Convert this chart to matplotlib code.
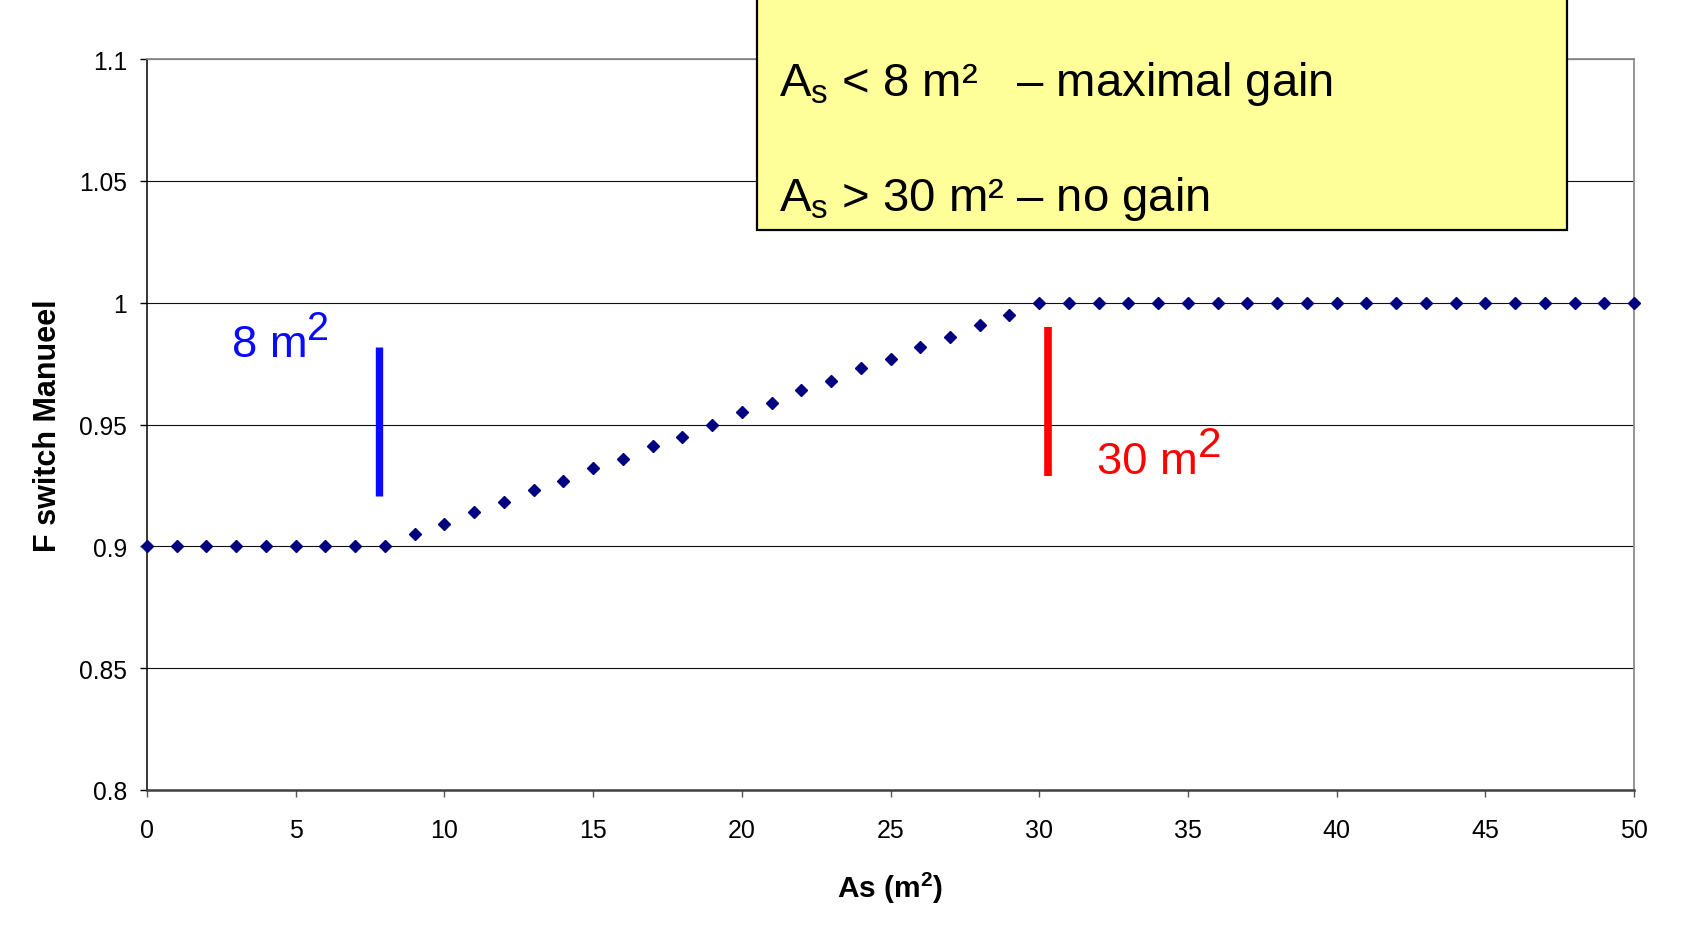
import matplotlib
matplotlib.use("Agg")
import matplotlib.pyplot as plt
from matplotlib.patches import Rectangle

plt.rcParams['font.family'] = ['Liberation Sans', 'DejaVu Sans']
plt.rcParams['mathtext.fontset'] = 'custom'
plt.rcParams['mathtext.rm'] = 'Liberation Sans'
plt.rcParams['mathtext.it'] = 'Liberation Sans:italic'
plt.rcParams['mathtext.bf'] = 'Liberation Sans:bold'
plt.rcParams['mathtext.default'] = 'regular'

# data
area = [0, 1, 2, 3, 4, 5, 6, 7, 8, 9, 10, 11, 12, 13, 14, 15, 16, 17, 18, 19, 20,
        21, 22, 23, 24, 25, 26, 27, 28, 29, 30, 31, 32, 33, 34, 35, 36, 37, 38, 39, 40,
        41, 42, 43, 44, 45, 46, 47, 48, 49, 50]
f_switch = [0.9, 0.9, 0.9, 0.9, 0.9, 0.9, 0.9, 0.9, 0.9,
            0.905, 0.909, 0.914, 0.918, 0.923, 0.927, 0.932, 0.936, 0.941, 0.945, 0.95,
            0.955, 0.959, 0.964, 0.968, 0.973, 0.977, 0.982, 0.986, 0.991, 0.995,
            1.0, 1.0, 1.0, 1.0, 1.0, 1.0, 1.0, 1.0, 1.0, 1.0, 1.0,
            1.0, 1.0, 1.0, 1.0, 1.0, 1.0, 1.0, 1.0, 1.0, 1.0]

x_ticks = [0, 5, 10, 15, 20, 25, 30, 35, 40, 45, 50]
y_ticks = [0.8, 0.85, 0.9, 0.95, 1.0, 1.05, 1.1]
y_tick_labels = ['0.8', '0.85', '0.9', '0.95', '1', '1.05', '1.1']

low_limit = 7.8
low_span = (0.9205, 0.982)
high_limit = 30.3
high_span = (0.9287, 0.990)

box_lines = [r"$A_s$ < 8 m²   – maximal gain", r"$A_s$ > 30 m² – no gain"]

fig = plt.figure(figsize=(16.9, 9.53), dpi=100)
ax = fig.add_axes([0.08698, 0.16999, 0.8799, 0.76705])

ax.plot(area, f_switch, linestyle='none', marker='D', markersize=6.4,
        color='#000080', clip_on=False, zorder=3)

ax.vlines(low_limit, *low_span, color='#0a0aff', linewidth=5.3, zorder=4)
ax.vlines(high_limit, *high_span, color='#ff0000', linewidth=5.5, zorder=4)

t8 = ax.text(2.85, 0.978, "8 m", color='#0a0aff', fontsize=32.7, va='baseline', ha='left')
ax.annotate("2", xy=(1, 1), xycoords=t8, xytext=(0, 11), textcoords='offset points',
            va='top', ha='left', fontsize=28.5, color='#0a0aff')
t30 = ax.text(31.95, 0.930, "30 m", color='#ff0000', fontsize=32.7, va='baseline', ha='left')
ax.annotate("2", xy=(1, 1), xycoords=t30, xytext=(0, 12), textcoords='offset points',
            va='top', ha='left', fontsize=30.5, color='#ff0000')

ax.set_xlim(0, 50)
ax.set_ylim(0.8, 1.1)
ax.set_xticks(x_ticks)
ax.set_yticks(y_ticks)
ax.set_yticklabels(y_tick_labels)
ax.yaxis.grid(True, color='#111111', linewidth=0.8)
ax.set_axisbelow(True)

ax.tick_params(axis='x', length=5, width=1, color='#555555', pad=15, labelsize=18)
ax.tick_params(axis='y', length=5, width=1, color='black', pad=9.4, labelsize=17.7)

ax.spines['left'].set_color('black')
ax.spines['left'].set_linewidth(1.1)
ax.spines['bottom'].set_color('#404040')
ax.spines['bottom'].set_linewidth(1.8)
ax.spines['top'].set_color('#8c8c8c')
ax.spines['top'].set_linewidth(1.3)
ax.spines['right'].set_color('#8c8c8c')
ax.spines['right'].set_linewidth(1.3)

ax.set_xlabel(r"As (m$^2$)", fontsize=21.5, fontweight='bold')
ax.xaxis.set_label_coords(0.5, -0.1464)
ax.xaxis.label.set_va('baseline')
ax.set_ylabel("F switch Manueel", fontsize=22, fontweight='bold')
ax.yaxis.set_label_coords(-0.0666, 0.5)
ax.yaxis.label.set_va('center')

# yellow note box, its top runs off the figure
fig.add_artist(Rectangle((0.4479, 0.7576), 0.4793, 0.3, transform=fig.transFigure,
                         facecolor='#ffff99', edgecolor='black', linewidth=1.6, zorder=5))
fig.text(0.461, 0.8993, box_lines[0], fontsize=34, va='baseline', ha='left', zorder=6)
fig.text(0.461, 0.7786, box_lines[1], fontsize=34, va='baseline', ha='left', zorder=6)

fig.savefig("out.png", dpi=100)
